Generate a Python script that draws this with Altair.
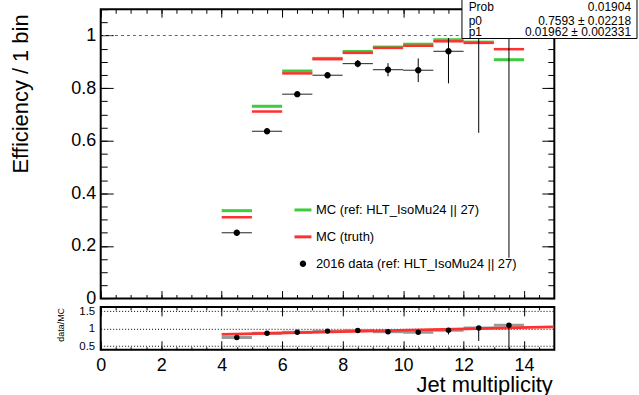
import altair as alt
import pandas as pd

# ---------------- data ----------------
bin_lo = [4, 5, 6, 7, 8, 9, 10, 11, 12, 13]
bin_hi = [5, 6, 7, 8, 9, 10, 11, 12, 13, 14]
bin_center = [4.5, 5.5, 6.5, 7.5, 8.5, 9.5, 10.5, 11.5, 12.5, 13.5]
mc_ref = [0.334, 0.731, 0.865, 0.913, 0.939, 0.956, 0.967, 0.984, 0.975, 0.908]
mc_truth = [0.309, 0.711, 0.856, 0.910, 0.934, 0.953, 0.961, 0.978, 0.972, 0.948]
data_eff = [0.250, 0.636, 0.777, 0.849, 0.893, 0.870, 0.868, 0.940, 1.000, 1.000]
data_low = [0.245, 0.630, 0.771, 0.841, 0.879, 0.845, 0.823, 0.818, 0.630, 0.155]
data_high = [0.255, 0.642, 0.783, 0.857, 0.907, 0.895, 0.913, 0.990, 1.000, 1.000]
ratio = [0.75, 0.87, 0.90, 0.93, 0.95, 0.91, 0.90, 0.955, 1.02, 1.10]
ratio_low = [0.735, 0.86, 0.89, 0.92, 0.935, 0.885, 0.853, 0.835, 0.65, 0.17]
ratio_high = [0.765, 0.88, 0.91, 0.94, 0.965, 0.935, 0.947, 1.005, 1.03, 1.10]
fit_range = [4.0, 15.0]
fit_p0 = 0.7593
fit_p1 = 0.01962
stat_names = ["Prob", "p0", "p1"]
stat_values = ["0.01904", "0.7593 \u00b1 0.02218", "0.01962 \u00b1 0.002331"]
series_names = ["MC (ref: HLT_IsoMu24 || 27)", "MC (truth)",
                "2016 data (ref: HLT_IsoMu24 || 27)"]
x_major_ticks = [0, 2, 4, 6, 8, 10, 12, 14]
x_minor_ticks = [i * 0.5 for i in range(31)]
y_major_ticks = [0, 0.2, 0.4, 0.6, 0.8, 1.0]
y_minor_ticks = [round(i * 0.05, 2) for i in range(23)]
ratio_ticks = [0.5, 1.0, 1.5]

# ---------------- style ----------------
FONT = "Liberation Sans"
GREEN = "#3ccc3c"
RED = "#ff3030"
W, H1, H2, GAP = 455.3, 290.4, 43.0, 7.8
PLOT_LEFT, PLOT_TOP = 100.7, 7.3
LINE_SYMBOL = "M-1,0H1"
DOT_SYMBOL = "M0,-0.2A0.2,0.2 0 1,1 0,0.2A0.2,0.2 0 1,1 0,-0.2Z"

df = pd.DataFrame({
    "lo": bin_lo, "hi": bin_hi, "c": bin_center,
    "ref": mc_ref, "truth": mc_truth,
    "eff": data_eff, "elo": data_low, "ehi": data_high,
    "r": ratio, "rlo": ratio_low, "rhi": ratio_high,
    "series": series_names[2],
})
fit_df = pd.DataFrame({"fx": fit_range,
                       "fy": [fit_p0 + fit_p1 * v for v in fit_range]})
one_df = pd.DataFrame({"one": [1.0]})
stat_df = pd.DataFrame({"name": stat_names, "value": stat_values})


def tick_axis(orient, values, size):
    return alt.Axis(orient=orient, values=values, tickSize=size, offset=-size,
                    labels=False, domain=False, grid=False, title=None,
                    ticks=True, tickColor="black", tickWidth=1)


xs_main = alt.Scale(domain=[0, 15], nice=False, zero=False)
ys_main = alt.Scale(domain=[0, 1.1], nice=False, zero=False)

y_label_axis = alt.Axis(
    orient="left", values=y_major_ticks, tickSize=12.5, offset=-12.5,
    ticks=True, tickColor="black", labels=True, labelFontSize=18,
    labelFont=FONT, labelColor="black", labelPadding=5, format="~g",
    labelFlush=False, labelOverlap=False, domain=False, grid=False,
    title="Efficiency / 1 bin", titleFont=FONT, titleFontSize=22,
    titleFontWeight="normal", titleColor="black", titleAngle=270,
    titleAlign="right", titleBaseline="alphabetic",
    titleX=27 - PLOT_LEFT - 12.5, titleY=12 - PLOT_TOP)

dashed = alt.Chart(one_df).mark_rule(color="#666666", strokeDash=[3, 3],
                                       strokeWidth=1).encode(
    y=alt.Y("one:Q", scale=ys_main, axis=None))

green = alt.Chart(df).mark_rule(color=GREEN, strokeWidth=3).encode(
    x=alt.X("lo:Q", scale=xs_main, axis=tick_axis("bottom", x_major_ticks, 8)),
    x2="hi:Q",
    y=alt.Y("ref:Q", scale=ys_main, axis=y_label_axis))

red = alt.Chart(df).mark_rule(color=RED, strokeWidth=2.5).encode(
    x=alt.X("lo:Q", scale=xs_main, axis=tick_axis("bottom", x_minor_ticks, 4)),
    x2="hi:Q",
    y=alt.Y("truth:Q", scale=ys_main, axis=tick_axis("left", y_minor_ticks, 6.5)))

hbar = alt.Chart(df).mark_rule(color="#222222", strokeWidth=1).encode(
    x=alt.X("lo:Q", scale=xs_main, axis=tick_axis("top", x_major_ticks, 8)),
    x2="hi:Q",
    y=alt.Y("eff:Q", scale=ys_main, axis=tick_axis("right", y_major_ticks, 12.5)))

vbar = alt.Chart(df).mark_rule(color="black", strokeWidth=1).encode(
    x=alt.X("c:Q", scale=xs_main, axis=tick_axis("top", x_minor_ticks, 4)),
    y=alt.Y("elo:Q", scale=ys_main, axis=tick_axis("right", y_minor_ticks, 6.5)),
    y2="ehi:Q")

leg = alt.Legend(orient="none", legendX=193, legendY=191.5, title=None,
                 labelFont=FONT, labelFontSize=13, labelColor="black",
                 labelLimit=600, symbolStrokeWidth=3, symbolSize=289,
                 rowPadding=10, labelOffset=3, padding=0, symbolOpacity=1)
points = alt.Chart(df).mark_point(filled=False, strokeWidth=3, opacity=1,
                                  size=289).encode(
    x=alt.X("c:Q", scale=xs_main, axis=None),
    y=alt.Y("eff:Q", scale=ys_main, axis=None),
    color=alt.Color("series:N", scale=alt.Scale(domain=series_names,
                    range=[GREEN, RED, "black"]), legend=leg),
    shape=alt.Shape("series:N", scale=alt.Scale(domain=series_names,
                    range=[LINE_SYMBOL, LINE_SYMBOL, DOT_SYMBOL]), legend=leg))

# statistics box (top right, partly outside the frame)
box = alt.Chart(one_df).mark_rect(fill="white", stroke="black",
                                  strokeWidth=1).encode(
    x=alt.value(463.3 - PLOT_LEFT), x2=alt.value(639 - PLOT_LEFT),
    y=alt.value(-PLOT_TOP - 6), y2=alt.value(36.7 - PLOT_TOP))
stat_layers = []
row_baselines = [9.5, 23.0, 34.3]
for i in range(len(stat_names)):
    row = stat_df.iloc[[i]]
    stat_layers.append(alt.Chart(row).mark_text(
        align="left", baseline="alphabetic", font=FONT, fontSize=12,
        color="black").encode(x=alt.value(470 - PLOT_LEFT),
                              y=alt.value(row_baselines[i] - PLOT_TOP),
                              text="name:N"))
    stat_layers.append(alt.Chart(row).mark_text(
        align="right", baseline="alphabetic", font=FONT, fontSize=12,
        color="black").encode(x=alt.value(633 - PLOT_LEFT),
                              y=alt.value(row_baselines[i] - PLOT_TOP),
                              text="value:N"))

main = alt.layer(dashed, green, red, hbar, vbar, points, box, *stat_layers).resolve_axis(
    x="independent", y="independent").properties(width=W, height=H1)

# ---------------- ratio panel ----------------
xs_r = alt.Scale(domain=[0, 15], nice=False, zero=False)
ys_r = alt.Scale(domain=[0.40, 1.62], nice=False, zero=False)

x_label_axis = alt.Axis(
    orient="bottom", values=x_major_ticks, tickSize=9, offset=-9, ticks=True,
    tickColor="black", labels=True, labelFont=FONT, labelFontSize=18,
    labelColor="black", labelPadding=6.7, format="d", labelFlush=False,
    labelOverlap=False, domain=False, grid=False,
    title="Jet multiplicity", titleFont=FONT, titleFontSize=22,
    titleFontWeight="normal", titleColor="black", titleAngle=0,
    titleAlign="right", titleBaseline="alphabetic",
    titleX=554 - PLOT_LEFT, titleY=85.0 - (H2 - 9))

r_y_axis = alt.Axis(
    orient="left", values=ratio_ticks, ticks=False, tickSize=0, labels=True,
    labelFont=FONT, labelFontSize=11.5, labelColor="black", labelPadding=6,
    format="~g", labelFlush=False, labelOverlap=False, domain=False,
    grid=True, gridDash=[1, 2], gridColor="black", gridWidth=1, gridOpacity=1,
    title="data/MC", titleFont=FONT, titleFontSize=9, titleFontWeight="normal",
    titleColor="black", titleAngle=270, titleAlign="center",
    titleBaseline="alphabetic", titleX=63.3 - PLOT_LEFT, titleY=17.5)

r_hbar = alt.Chart(df).mark_rule(color="#9a9a9a", strokeWidth=3, clip=True).encode(
    x=alt.X("lo:Q", scale=xs_r, axis=tick_axis("bottom", x_minor_ticks, 3)),
    x2="hi:Q",
    y=alt.Y("r:Q", scale=ys_r, axis=r_y_axis))

r_fit = alt.Chart(fit_df).mark_line(color=RED, strokeWidth=2.8, clip=True).encode(
    x=alt.X("fx:Q", scale=xs_r, axis=x_label_axis),
    y=alt.Y("fy:Q", scale=ys_r, axis=None))

r_vbar = alt.Chart(df).mark_rule(color="black", strokeWidth=1, clip=True).encode(
    x=alt.X("c:Q", scale=xs_r, axis=tick_axis("top", x_major_ticks, 9)),
    y=alt.Y("rlo:Q", scale=ys_r, axis=None),
    y2="rhi:Q")

r_pts = alt.Chart(df).mark_circle(color="black", size=30, opacity=1,
                                   clip=True).encode(
    x=alt.X("c:Q", scale=xs_r, axis=tick_axis("top", x_minor_ticks, 3)),
    y=alt.Y("r:Q", scale=ys_r, axis=None))

ratio_panel = alt.layer(r_hbar, r_fit, r_vbar, r_pts).resolve_axis(
    x="independent", y="independent").properties(width=W, height=H2)

# the statistics box starts 6 px above the canvas, as in the reference
chart = alt.vconcat(main, ratio_panel, spacing=GAP, bounds="flush").properties(
    padding={"left": 8.1, "top": -6.5, "right": 0, "bottom": 0}
).configure(font=FONT).configure_view(stroke="black", strokeWidth=2)

chart.save("out.html", embed_options={"renderer": "svg", "actions": False})
